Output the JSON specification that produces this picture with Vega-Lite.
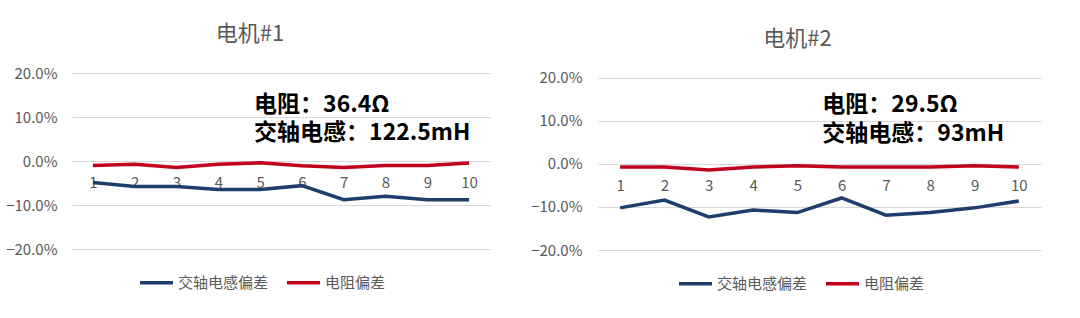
{
  "$schema": "https://vega.github.io/schema/vega-lite/v6.json",
  "padding": {"left": 5, "top": 23, "right": 10, "bottom": 10},
  "background": "white",
  "config": {
    "font": "Noto Sans CJK SC",
    "view": {"stroke": null},
    "axis": {"labelColor": "#595959", "labelFontSize": 15, "labelFont": "Noto Sans CJK SC"},
    "legend": {"labelFont": "Noto Sans CJK SC"},
    "text": {"align": "left", "baseline": "middle", "fontSize": 23, "fontWeight": "bold", "color": "#000000", "font": "Noto Sans CJK SC"}
  },
  "datasets": {
    "series": [
      {"motor": "电机#1", "n": "1", "kind": "交轴电感偏差", "v": -0.049},
      {"motor": "电机#1", "n": "2", "kind": "交轴电感偏差", "v": -0.058},
      {"motor": "电机#1", "n": "3", "kind": "交轴电感偏差", "v": -0.058},
      {"motor": "电机#1", "n": "4", "kind": "交轴电感偏差", "v": -0.065},
      {"motor": "电机#1", "n": "5", "kind": "交轴电感偏差", "v": -0.065},
      {"motor": "电机#1", "n": "6", "kind": "交轴电感偏差", "v": -0.056},
      {"motor": "电机#1", "n": "7", "kind": "交轴电感偏差", "v": -0.088},
      {"motor": "电机#1", "n": "8", "kind": "交轴电感偏差", "v": -0.080},
      {"motor": "电机#1", "n": "9", "kind": "交轴电感偏差", "v": -0.088},
      {"motor": "电机#1", "n": "10", "kind": "交轴电感偏差", "v": -0.088},
      {"motor": "电机#1", "n": "1", "kind": "电阻偏差", "v": -0.010},
      {"motor": "电机#1", "n": "2", "kind": "电阻偏差", "v": -0.0075},
      {"motor": "电机#1", "n": "3", "kind": "电阻偏差", "v": -0.015},
      {"motor": "电机#1", "n": "4", "kind": "电阻偏差", "v": -0.0075},
      {"motor": "电机#1", "n": "5", "kind": "电阻偏差", "v": -0.004},
      {"motor": "电机#1", "n": "6", "kind": "电阻偏差", "v": -0.011},
      {"motor": "电机#1", "n": "7", "kind": "电阻偏差", "v": -0.015},
      {"motor": "电机#1", "n": "8", "kind": "电阻偏差", "v": -0.010},
      {"motor": "电机#1", "n": "9", "kind": "电阻偏差", "v": -0.010},
      {"motor": "电机#1", "n": "10", "kind": "电阻偏差", "v": -0.0045},
      {"motor": "电机#2", "n": "1", "kind": "交轴电感偏差", "v": -0.102},
      {"motor": "电机#2", "n": "2", "kind": "交轴电感偏差", "v": -0.084},
      {"motor": "电机#2", "n": "3", "kind": "交轴电感偏差", "v": -0.123},
      {"motor": "电机#2", "n": "4", "kind": "交轴电感偏差", "v": -0.107},
      {"motor": "电机#2", "n": "5", "kind": "交轴电感偏差", "v": -0.113},
      {"motor": "电机#2", "n": "6", "kind": "交轴电感偏差", "v": -0.079},
      {"motor": "电机#2", "n": "7", "kind": "交轴电感偏差", "v": -0.119},
      {"motor": "电机#2", "n": "8", "kind": "交轴电感偏差", "v": -0.113},
      {"motor": "电机#2", "n": "9", "kind": "交轴电感偏差", "v": -0.102},
      {"motor": "电机#2", "n": "10", "kind": "交轴电感偏差", "v": -0.086},
      {"motor": "电机#2", "n": "1", "kind": "电阻偏差", "v": -0.007},
      {"motor": "电机#2", "n": "2", "kind": "电阻偏差", "v": -0.007},
      {"motor": "电机#2", "n": "3", "kind": "电阻偏差", "v": -0.014},
      {"motor": "电机#2", "n": "4", "kind": "电阻偏差", "v": -0.007},
      {"motor": "电机#2", "n": "5", "kind": "电阻偏差", "v": -0.004},
      {"motor": "电机#2", "n": "6", "kind": "电阻偏差", "v": -0.007},
      {"motor": "电机#2", "n": "7", "kind": "电阻偏差", "v": -0.007},
      {"motor": "电机#2", "n": "8", "kind": "电阻偏差", "v": -0.007},
      {"motor": "电机#2", "n": "9", "kind": "电阻偏差", "v": -0.004},
      {"motor": "电机#2", "n": "10", "kind": "电阻偏差", "v": -0.007}
    ],
    "notes": [
      {"motor": "电机#1", "line": 1, "note": "电阻：36.4Ω"},
      {"motor": "电机#1", "line": 2, "note": "交轴电感：122.5mH"},
      {"motor": "电机#2", "line": 1, "note": "电阻：29.5Ω"},
      {"motor": "电机#2", "line": 2, "note": "交轴电感：93mH"}
    ]
  },
  "bounds": "flush",
  "spacing": 108,
  "resolve": {"scale": {"y": "independent", "x": "independent", "color": "independent"}, "legend": {"color": "independent"}},
  "hconcat": [
    {
      "width": 418,
      "height": 176,
      "title": {"text": "电机#1", "frame": "group", "dx": -31, "fontSize": 22, "fontWeight": "normal", "color": "#595959", "font": "Noto Sans CJK SC", "offset": 20},
      "layer": [
        {
          "data": {"name": "series"},
          "transform": [{"filter": "datum.motor === '电机#1'"}],
          "mark": {"type": "line", "strokeWidth": 3.5},
          "encoding": {
            "x": {"field": "n", "type": "ordinal", "sort": null, "scale": {"type": "point", "padding": 0.5},
                  "axis": {"title": null, "labelAngle": 0, "domain": false, "ticks": false, "grid": false, "offset": -88, "labelPadding": 14}},
            "y": {"field": "v", "type": "quantitative", "scale": {"domain": [-0.2, 0.2], "nice": false, "zero": false},
                  "axis": {"title": null, "format": ".1%", "values": [-0.2, -0.1, 0, 0.1, 0.2], "domain": false, "ticks": false, "gridColor": "#d9d9d9", "gridWidth": 1, "labelPadding": 15}},
            "color": {"field": "kind", "type": "nominal", "scale": {"domain": ["交轴电感偏差", "电阻偏差"], "range": ["#1F3E6B", "#C0001D"]},
                      "legend": {"title": null, "orient": "none", "direction": "horizontal", "legendX": 66, "legendY": 191, "symbolType": "stroke", "symbolSize": 1089, "symbolStrokeWidth": 3.5, "labelFontSize": 15, "labelColor": "#595959", "labelOffset": 3, "columnPadding": 11}}
          }
        },
        {
          "data": {"name": "notes"},
          "transform": [{"filter": "datum.motor === '电机#1' && datum.line === 1"}],
          "mark": {"type": "text", "dx": -6},
          "encoding": {
            "x": {"datum": "5", "type": "ordinal"},
            "y": {"datum": 0.127, "type": "quantitative"},
            "text": {"field": "note"}
          }
        },
        {
          "data": {"name": "notes"},
          "transform": [{"filter": "datum.motor === '电机#1' && datum.line === 2"}],
          "mark": {"type": "text", "dx": -6},
          "encoding": {
            "x": {"datum": "5", "type": "ordinal"},
            "y": {"datum": 0.064, "type": "quantitative"},
            "text": {"field": "note"}
          }
        }
      ]
    },
    {
      "width": 443,
      "height": 177,
      "title": {"text": "电机#2", "frame": "group", "dx": -22, "fontSize": 22, "fontWeight": "normal", "color": "#595959", "font": "Noto Sans CJK SC", "offset": 20},
      "layer": [
        {
          "data": {"name": "series"},
          "transform": [{"filter": "datum.motor === '电机#2'"}],
          "mark": {"type": "line", "strokeWidth": 3.5},
          "encoding": {
            "x": {"field": "n", "type": "ordinal", "sort": null, "scale": {"type": "point", "padding": 0.5},
                  "axis": {"title": null, "labelAngle": 0, "domain": false, "ticks": false, "grid": false, "offset": -86, "labelPadding": 14}},
            "y": {"field": "v", "type": "quantitative", "scale": {"domain": [-0.2, 0.2116], "nice": false, "zero": false},
                  "axis": {"title": null, "format": ".1%", "values": [-0.2, -0.1, 0, 0.1, 0.2], "domain": false, "ticks": false, "gridColor": "#d9d9d9", "gridWidth": 1, "labelPadding": 16}},
            "color": {"field": "kind", "type": "nominal", "scale": {"domain": ["交轴电感偏差", "电阻偏差"], "range": ["#1F3E6B", "#C0001D"]},
                      "legend": {"title": null, "orient": "none", "direction": "horizontal", "legendX": 79, "legendY": 192, "symbolType": "stroke", "symbolSize": 1089, "symbolStrokeWidth": 3.5, "labelFontSize": 15, "labelColor": "#595959", "labelOffset": 3, "columnPadding": 11}}
          }
        },
        {
          "data": {"name": "notes"},
          "transform": [{"filter": "datum.motor === '电机#2' && datum.line === 1"}],
          "mark": {"type": "text", "dx": 25},
          "encoding": {
            "x": {"datum": "5", "type": "ordinal"},
            "y": {"datum": 0.138, "type": "quantitative"},
            "text": {"field": "note"}
          }
        },
        {
          "data": {"name": "notes"},
          "transform": [{"filter": "datum.motor === '电机#2' && datum.line === 2"}],
          "mark": {"type": "text", "dx": 25},
          "encoding": {
            "x": {"datum": "5", "type": "ordinal"},
            "y": {"datum": 0.0705, "type": "quantitative"},
            "text": {"field": "note"}
          }
        }
      ]
    }
  ]
}
